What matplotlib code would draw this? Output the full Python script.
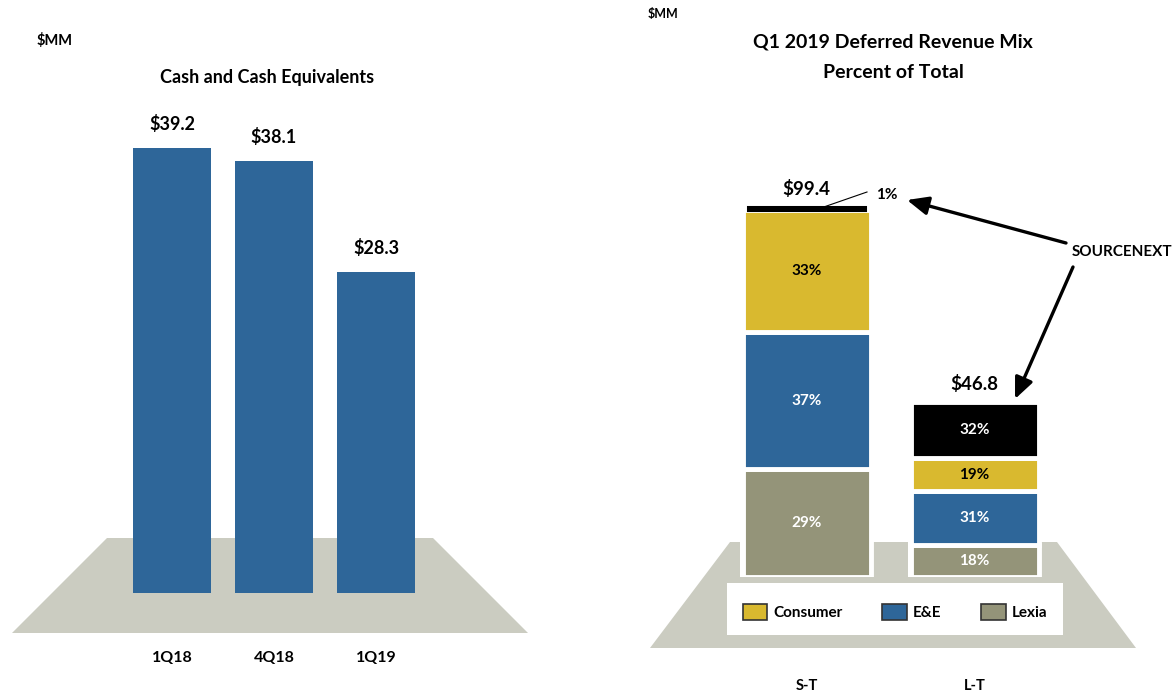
import matplotlib
matplotlib.use("Agg")
import matplotlib.pyplot as plt
from matplotlib.patches import Polygon, Rectangle, Patch
import numpy as np

plt.rcParams['font.family'] = ['Lato', 'DejaVu Sans']
plt.rcParams['font.weight'] = 'bold'

# ---------------- data ----------------
cash_periods = ["1Q18", "4Q18", "1Q19"]
cash_values = [39.2, 38.1, 28.3]
cash_labels = ["$39.2", "$38.1", "$28.3"]

dr_categories = ["S-T", "L-T"]
dr_totals = [99.4, 46.8]
dr_total_labels = ["$99.4", "$46.8"]
series_names = ["Lexia", "E&E", "Consumer", "SOURCENEXT"]
pct_lexia = [29, 18]
pct_ee = [37, 31]
pct_consumer = [33, 19]
pct_sourcenext = [1, 32]

BLUE = "#2E6699"
YELLOW = "#D9B92F"
GRAY = "#949479"
BLACK = "#000000"
FLOOR = "#CBCCC1"

W, H = 1175, 691
fig = plt.figure(figsize=(W / 100, H / 100), dpi=100)

# background axes in pixel coordinates for decorations
bg = fig.add_axes([0, 0, 1, 1], zorder=0)
bg.set_xlim(0, W)
bg.set_ylim(H, 0)
bg.axis("off")

bg.add_patch(Polygon([(107, 538), (433, 538), (528, 633), (12, 633)],
                     closed=True, facecolor=FLOOR, edgecolor="none"))
bg.add_patch(Polygon([(730, 542), (1057, 542), (1136, 648), (650, 648)],
                     closed=True, facecolor=FLOOR, edgecolor="none"))
bg.add_patch(Rectangle((727, 583), 336, 52, facecolor="white", edgecolor="none", zorder=2))

bg.text(37, 40, "$MM", fontsize=10.5, ha="left", va="center")
bg.text(267, 77, "Cash and Cash Equivalents", fontsize=13, ha="center", va="center")
bg.text(648, 14, "$MM", fontsize=9, ha="left", va="center")
bg.text(893, 42, "Q1 2019 Deferred Revenue Mix", fontsize=14, ha="center", va="center")
bg.text(893, 72, "Percent of Total", fontsize=14, ha="center", va="center")

# ---------------- left chart ----------------
def px_axes(x0, x1, y_base, y_top):
    return fig.add_axes([x0 / W, (H - y_base) / H, (x1 - x0) / W, (y_base - y_top) / H], zorder=1)

axL = px_axes(100, 450, 593, 100)
axL.patch.set_alpha(0)
spacing_L = 102.0
xL = np.arange(len(cash_periods))
axL.bar(xL, cash_values, width=78 / spacing_L, color=BLUE, edgecolor="none")
axL.set_xlim(-72 / spacing_L, (450 - 172) / spacing_L)
axL.set_ylim(0, 493 / 11.35)
for x, v, lab in zip(xL, cash_values, cash_labels):
    axL.annotate(lab, (x, v), xytext=(0, 17), textcoords="offset points",
                 ha="center", va="center", fontsize=13)
axL.set_xticks(xL, cash_periods, fontsize=11.5)
axL.tick_params(axis="x", length=0, pad=42)
axL.set_yticks([])
for s in axL.spines.values():
    s.set_visible(False)

# ---------------- right chart ----------------
scale_R = 3.72
spacing_R = 168.0
axR = px_axes(700, 1100, 576.5, 100)
axR.patch.set_alpha(0)
xR = np.arange(len(dr_categories))
bw = 128 / spacing_R
axR.set_xlim(-106.5 / spacing_R, (1100 - 806.5) / spacing_R)
axR.set_ylim(0, 476.5 / scale_R)

totals = np.array(dr_totals)
axR.bar(xR, totals, width=133 / spacing_R, color="white", edgecolor="none", zorder=1)

series_pcts = [pct_lexia, pct_ee, pct_consumer, pct_sourcenext]
series_colors = [GRAY, BLUE, YELLOW, BLACK]
text_colors = ["white", "white", "black", "white"]
bottom = np.zeros(len(xR))
for name, pcts, col, tc in zip(series_names, series_pcts, series_colors, text_colors):
    vals = totals * np.array(pcts) / 100.0
    edges = ["white", "white"]
    lws = [3.5, 3.5]
    widths = [bw, bw]
    if name == "SOURCENEXT":
        edges = [BLACK, "white"]
        lws = [2.2, 3.5]
        widths = [117 / spacing_R, bw]
    cont = axR.bar(xR, vals, bottom=bottom, width=widths, color=col, edgecolor=edges,
                   linewidth=lws, zorder=2)
    labels = [f"{p}%" for p in pcts]
    if name == "SOURCENEXT":
        labels = ["", labels[1]]
    axR.bar_label(cont, labels=labels, label_type="center", color=tc, fontsize=11)
    bottom = bottom + vals

for x, t, lab in zip(xR, totals, dr_total_labels):
    axR.annotate(lab, (x, t), xytext=(0, 13), textcoords="offset points",
                 ha="center", va="center", fontsize=13.5)

axR.set_xticks(xR, dr_categories, fontsize=10.5)
axR.tick_params(axis="x", length=0, pad=74)
axR.set_yticks([])
for s in axR.spines.values():
    s.set_visible(False)

# annotations (pixel coordinates, drawn on top)
ov = fig.add_axes([0, 0, 1, 1], zorder=3)
ov.set_xlim(0, W)
ov.set_ylim(H, 0)
ov.axis("off")
ov.plot([818, 867], [209, 192], color="black", lw=0.8)
ov.text(887, 195, "1%", fontsize=11, ha="center", va="center")
ov.text(1072, 252, "SOURCENEXT", fontsize=11, ha="left", va="center")
ov.annotate("", xy=(907, 200), xytext=(1066, 243),
            arrowprops=dict(arrowstyle="-|>,head_length=0.8,head_width=0.35", lw=2.4,
                            color="black", mutation_scale=16, shrinkA=0, shrinkB=0))
ov.annotate("", xy=(1015, 399), xytext=(1073, 267),
            arrowprops=dict(arrowstyle="-|>,head_length=0.8,head_width=0.35", lw=2.4,
                            color="black", mutation_scale=16, shrinkA=0, shrinkB=0))

# legend
handles = [Patch(facecolor=YELLOW, edgecolor="#333333", linewidth=1.2),
           Patch(facecolor=BLUE, edgecolor="#333333", linewidth=1.2),
           Patch(facecolor=GRAY, edgecolor="#333333", linewidth=1.2)]
leg = fig.legend(handles, ["Consumer", "E&E", "Lexia"], ncol=3, loc="center",
                 bbox_to_anchor=(895 / W, 1 - 612 / H), frameon=False, fontsize=11,
                 handlelength=1.6, handleheight=1.25, handletextpad=0.4, columnspacing=2.6)
leg.set_zorder(4)

fig.savefig("out.png", dpi=100)
